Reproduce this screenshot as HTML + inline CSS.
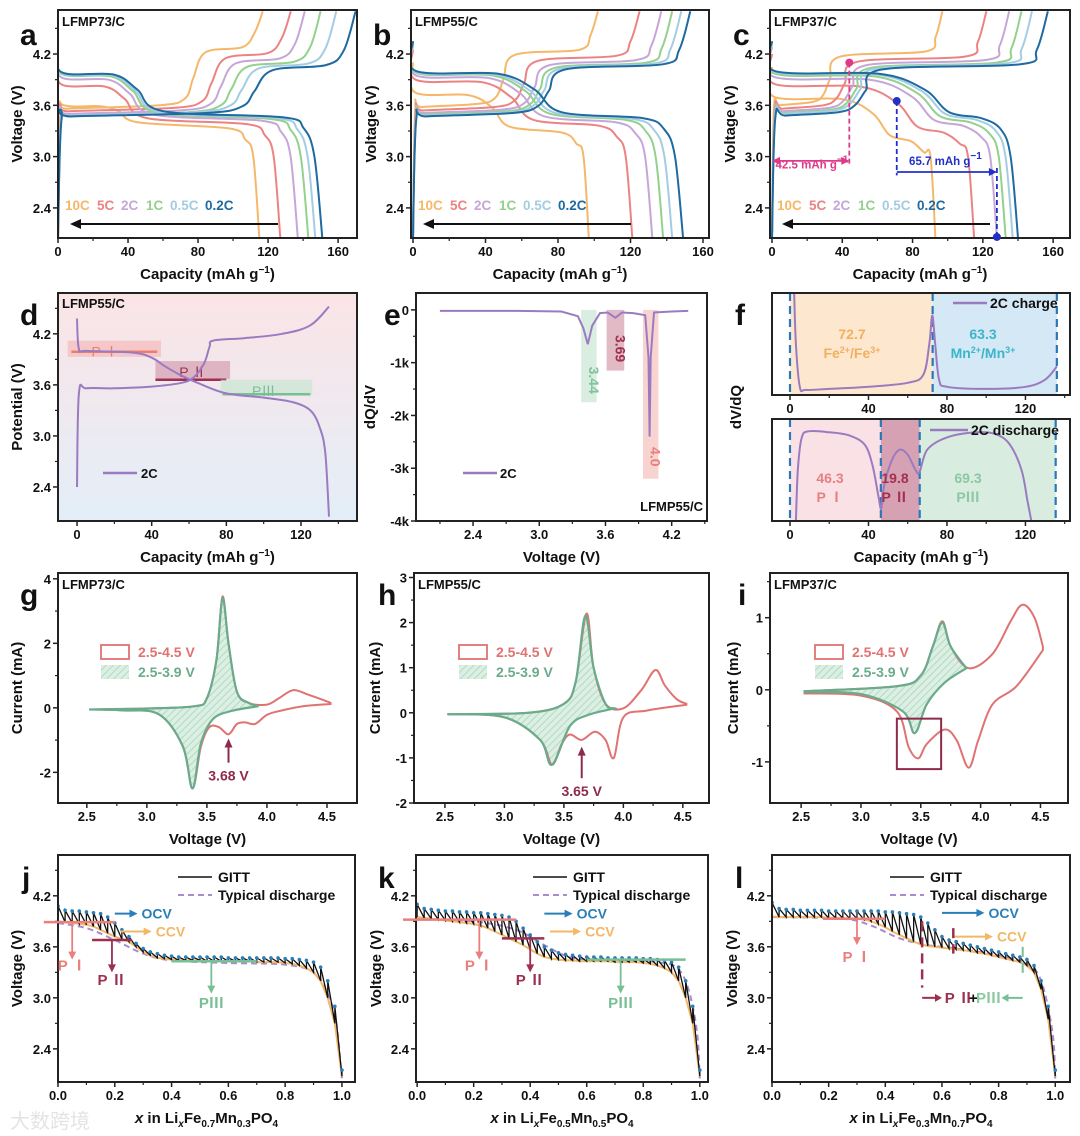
<!DOCTYPE html>
<html><head><meta charset="utf-8"><style>
html,body{margin:0;padding:0;background:#fff}
svg{display:block;font-family:"Liberation Sans","Noto Sans CJK SC",sans-serif}
</style></head><body>
<svg id="fig" width="1080" height="1136" viewBox="0 0 1080 1136">
<defs>
<linearGradient id="dbg" x1="0" y1="0" x2="0" y2="1"><stop offset="0" stop-color="#fbe4e6"/><stop offset="1" stop-color="#e3eef8"/></linearGradient>
<pattern id="hatch" width="5" height="5" patternUnits="userSpaceOnUse" patternTransform="rotate(45)"><rect width="5" height="5" fill="#dcefe3"/><line x1="0" y1="0" x2="0" y2="5" stroke="#a9d4bb" stroke-width="1.6"/></pattern>
</defs>
</svg>
<script>
// ---------- data: panels a,b,c (rates) ----------
const rates=['10C','5C','2C','1C','0.5C','0.2C'];
const rateColors=['#f5b86a','#ec8383','#c6a6d8','#93d18d','#a3cde3','#1f6aa0'];
const aDisCap=[115,127,137,143,147,151];
const aChgCap=[117,133,141,150,159,170];
const aDHigh=[3.62,3.85,3.93,3.97,3.98,3.99];
const aDLow=[3.35,3.4,3.44,3.46,3.47,3.48];
const aCLow=[3.58,3.55,3.52,3.5,3.5,3.49];
const aCHigh=[4.25,4.18,4.12,4.08,4.06,4.04];
const bDisCap=[97,121,132,138,143,149];
const bChgCap=[102,125,137,143,148,153];
const bDHigh=[3.75,3.9,3.95,3.98,3.99,4.0];
const bDLow=[3.3,3.38,3.42,3.45,3.46,3.47];
const bCLow=[3.6,3.56,3.53,3.51,3.5,3.49];
const bCHigh=[4.22,4.15,4.1,4.07,4.06,4.05];
const cDisCap=[93,115,128,133,137,140];
const cChgCap=[97,122,135,142,148,157];
const cDHigh=[3.7,3.85,3.93,3.97,3.99,4.0];
const cDLow=[3.2,3.3,3.38,3.42,3.45,3.47];
const cCLow=[3.62,3.58,3.55,3.53,3.52,3.5];
const cCHigh=[4.2,4.14,4.1,4.07,4.06,4.05];
// ---------- panel d ----------
const dChgX=[0,1,5,20,40,55,62,68,71,73,90,110,125,135];
const dChgY=[2.4,3.5,3.56,3.56,3.58,3.62,3.68,3.85,4.05,4.12,4.15,4.2,4.3,4.52];
const dDisX=[0,1,5,30,40,47,55,65,80,100,115,125,130,133,135];
const dDisY=[4.38,4.02,4.0,3.98,3.92,3.82,3.72,3.62,3.5,3.45,3.4,3.3,3.1,2.8,2.05];
// ---------- panel e ----------
const eX=[2.1,2.8,3.2,3.35,3.4,3.44,3.48,3.55,3.62,3.69,3.75,3.85,3.96,3.99,4.0,4.01,4.04,4.2,4.35];
const eY=[-0.02,-0.02,-0.03,-0.12,-0.35,-0.65,-0.3,-0.06,-0.05,-0.15,-0.05,-0.06,-0.1,-0.9,-2.4,-0.9,-0.05,-0.03,-0.02];
// ---------- panel f ----------
const fChgX=[2,3,5,8,20,40,60,68,71,72.5,74,76,80,100,120,130,136];
const fChgY=[1.1,0.5,0.08,0.05,0.06,0.08,0.12,0.2,0.5,0.78,0.5,0.15,0.08,0.06,0.08,0.15,0.28];
const fDisX=[3,4,6,10,20,30,38,42,45,46.5,48,52,56,60,64,66,70,80,95,105,112,118,121,123];
const fDisY=[0,0.5,0.82,0.88,0.87,0.84,0.75,0.55,0.25,0.12,0.35,0.6,0.7,0.65,0.5,0.48,0.7,0.82,0.87,0.85,0.75,0.5,0.2,0];
// ---------- panels g,h,i ----------
const gRedF=[[2.52,-0.05],[3.0,-0.02],[3.4,0.05],[3.5,0.3],[3.58,1.5],[3.63,3.45],[3.68,2.0],[3.75,0.5],[3.85,0.15],[4.0,0.1],[4.1,0.3],[4.22,0.55],[4.35,0.4],[4.5,0.2],[4.53,0.15]];
const gRedR=[[4.53,0.12],[4.3,0.05],[4.1,-0.1],[4.0,-0.22],[3.9,-0.5],[3.82,-0.45],[3.75,-0.5],[3.68,-0.82],[3.6,-0.6],[3.52,-0.6],[3.45,-1.2],[3.38,-2.5],[3.3,-1.2],[3.1,-0.2],[2.8,-0.08],[2.52,-0.05]];
const gGrnF=[[2.52,-0.05],[3.0,-0.02],[3.4,0.05],[3.5,0.3],[3.58,1.5],[3.63,3.4],[3.68,2.0],[3.75,0.5],[3.85,0.15],[3.93,0.05]];
const gGrnR=[[3.93,0.05],[3.7,-0.1],[3.55,-0.35],[3.45,-1.1],[3.38,-2.5],[3.3,-1.2],[3.1,-0.2],[2.8,-0.08],[2.52,-0.05]];
const hRedF=[[2.52,-0.03],[3.2,0],[3.5,0.2],[3.6,0.7],[3.69,2.2],[3.75,1.0],[3.85,0.2],[4.0,0.1],[4.15,0.5],[4.27,0.95],[4.35,0.6],[4.45,0.3],[4.53,0.2]];
const hRedR=[[4.53,0.18],[4.2,0.05],[4.0,-0.1],[3.92,-1.0],[3.85,-0.6],[3.76,-0.42],[3.65,-0.6],[3.55,-0.48],[3.48,-0.7],[3.4,-1.15],[3.3,-0.6],[3.0,-0.1],[2.52,-0.03]];
const hGrnF=[[2.52,-0.03],[3.2,0],[3.5,0.2],[3.6,0.7],[3.68,2.15],[3.75,1.0],[3.85,0.2],[3.93,0.1]];
const hGrnR=[[3.93,0.1],[3.7,-0.05],[3.55,-0.3],[3.4,-1.15],[3.3,-0.6],[3.0,-0.1],[2.52,-0.03]];
const iRedF=[[2.52,-0.02],[3.3,0.05],[3.5,0.2],[3.6,0.6],[3.68,0.95],[3.75,0.6],[3.9,0.3],[4.1,0.5],[4.25,0.95],[4.35,1.18],[4.45,1.0],[4.52,0.6]];
const iRedR=[[4.52,0.55],[4.3,0.05],[4.1,-0.2],[3.98,-0.7],[3.9,-1.08],[3.8,-0.7],[3.7,-0.55],[3.55,-0.75],[3.48,-0.95],[3.4,-0.8],[3.3,-0.3],[3.0,-0.08],[2.52,-0.05]];
const iGrnF=[[2.52,-0.02],[3.3,0.05],[3.5,0.2],[3.6,0.6],[3.68,0.93],[3.75,0.6],[3.88,0.3]];
const iGrnR=[[3.88,0.3],[3.7,0.1],[3.55,-0.2],[3.45,-0.6],[3.35,-0.3],[3.0,-0.06],[2.52,-0.03]];
// ---------- panels j,k,l (GITT) ----------
const jOCV=[4.08,4.03,4.02,4.02,4.01,4.0,3.99,3.95,3.88,3.8,3.72,3.64,3.58,3.54,3.52,3.5,3.49,3.48,3.48,3.48,3.48,3.48,3.48,3.48,3.47,3.47,3.47,3.47,3.47,3.47,3.47,3.47,3.46,3.46,3.45,3.44,3.42,3.36,3.2,2.9,2.15];
const jCCV=[3.9,3.89,3.88,3.87,3.86,3.84,3.8,3.76,3.72,3.69,3.66,3.6,3.54,3.5,3.47,3.46,3.45,3.44,3.44,3.44,3.44,3.43,3.43,3.43,3.43,3.43,3.43,3.43,3.42,3.42,3.42,3.42,3.41,3.4,3.38,3.35,3.3,3.2,3.0,2.7,2.08];
const jTypX=[0,0.1,0.2,0.3,0.4,0.6,0.8,0.9,0.95,0.98,1.0];
const jTypY=[3.88,3.82,3.68,3.52,3.44,3.41,3.39,3.3,3.05,2.7,2.05];
const kOCV=[4.1,4.05,4.04,4.03,4.02,4.02,4.01,4.01,4.0,4.0,3.99,3.98,3.97,3.95,3.9,3.82,3.74,3.66,3.6,3.56,3.53,3.51,3.5,3.49,3.48,3.48,3.48,3.47,3.47,3.47,3.47,3.47,3.46,3.46,3.45,3.44,3.42,3.36,3.2,2.9,2.15];
const kCCV=[3.95,3.94,3.93,3.92,3.91,3.9,3.89,3.88,3.87,3.85,3.82,3.78,3.74,3.7,3.66,3.62,3.57,3.52,3.48,3.46,3.45,3.44,3.44,3.43,3.43,3.43,3.43,3.43,3.42,3.42,3.42,3.42,3.41,3.4,3.38,3.35,3.3,3.2,3.0,2.7,2.08];
const kTypX=[0,0.2,0.35,0.45,0.55,0.7,0.85,0.92,0.96,0.99,1.0];
const kTypY=[3.93,3.9,3.8,3.62,3.47,3.44,3.42,3.35,3.1,2.6,2.05];
const lOCV=[4.12,4.05,4.04,4.04,4.03,4.03,4.03,4.03,4.02,4.02,4.02,4.02,4.02,4.02,4.02,4.02,4.01,4.01,4.0,3.99,3.98,3.95,3.88,3.8,3.72,3.68,3.66,3.64,3.62,3.6,3.58,3.56,3.54,3.52,3.5,3.48,3.45,3.38,3.2,2.9,2.15];
const lCCV=[3.96,3.95,3.95,3.95,3.95,3.95,3.95,3.95,3.94,3.94,3.94,3.93,3.93,3.92,3.9,3.87,3.83,3.78,3.74,3.7,3.66,3.63,3.61,3.6,3.59,3.58,3.57,3.56,3.55,3.53,3.52,3.5,3.48,3.46,3.44,3.42,3.38,3.3,3.1,2.75,2.08];
const lTypX=[0,0.25,0.35,0.45,0.55,0.65,0.8,0.9,0.95,0.99,1.0];
const lTypY=[3.95,3.93,3.85,3.7,3.62,3.58,3.5,3.4,3.2,2.6,2.05];

// ---------- helpers ----------
const NS='http://www.w3.org/2000/svg';
const svg=document.getElementById('fig');
function mk(tag,attrs,parent){const e=document.createElementNS(NS,tag);for(const k in attrs)e.setAttribute(k,attrs[k]);(parent||svg).appendChild(e);return e;}
function txt(x,y,s,attrs,parent){const t=mk('text',Object.assign({x:x,y:y,'font-size':13,'font-weight':'bold',fill:'#111'},attrs||{}),parent);t.innerHTML=s;return t;}
function smooth(p){if(p.length<2)return '';let d='M'+p[0][0].toFixed(1)+','+p[0][1].toFixed(1);
 for(let i=0;i<p.length-1;i++){const p0=p[i-1]||p[i],p1=p[i],p2=p[i+1],p3=p[i+2]||p2;
  const c1=[p1[0]+(p2[0]-p0[0])/6,p1[1]+(p2[1]-p0[1])/6],c2=[p2[0]-(p3[0]-p1[0])/6,p2[1]-(p3[1]-p1[1])/6];
  d+='C'+c1[0].toFixed(1)+','+c1[1].toFixed(1)+' '+c2[0].toFixed(1)+','+c2[1].toFixed(1)+' '+p2[0].toFixed(1)+','+p2[1].toFixed(1);}
 return d;}
function line(p){return 'M'+p.map(q=>q[0].toFixed(1)+','+q[1].toFixed(1)).join('L');}
let clipN=0;
function panel(o){
 const [L,T,R,B]=o.box;
 const sx=v=>L+(v-o.xd[0])/(o.xd[1]-o.xd[0])*(R-L);
 const sy=v=>B-(v-o.yd[0])/(o.yd[1]-o.yd[0])*(B-T);
 const g=mk('g',{});
 
 
 const id='clip'+(clipN++);
 const cp=mk('clipPath',{id:id},g);mk('rect',{x:L,y:T,width:R-L,height:B-T},cp);
 const bg=mk('g',{'clip-path':'url(#'+id+')'},g);
 const plot=mk('g',{'clip-path':'url(#'+id+')'},g);
 const top=mk('g',{},g);
 const frame=mk('rect',{x:L,y:T,width:R-L,height:B-T,fill:'none',stroke:'#222','stroke-width':2},top);
 
 
 (o.xt||[]).forEach(v=>{const x=sx(v);mk('line',{x1:x,y1:B,x2:x,y2:B+5,stroke:'#222','stroke-width':1.5},top);
   const t=txt(x,B+18,o.xfmt?o.xfmt(v):String(v),{'text-anchor':'middle'},top);
   
   });
 (o.xm||[]).forEach(v=>{const x=sx(v);mk('line',{x1:x,y1:B,x2:x,y2:B+3,stroke:'#222','stroke-width':1.2},top);});
 (o.yt||[]).forEach((v,i)=>{const y=sy(v);mk('line',{x1:L,y1:y,x2:L-5,y2:y,stroke:'#222','stroke-width':1.5},top);
   if(o.ylab!==false){const t=txt(L-7,y+5,o.yfmt?o.yfmt(v,i):String(v),{'text-anchor':'end'},top);
   
   }});
 (o.ym||[]).forEach(v=>{const y=sy(v);mk('line',{x1:L,y1:y,x2:L-3,y2:y,stroke:'#222','stroke-width':1.2},top);});
 if(o.xtitle){const t=txt((L+R)/2,B+41,o.xtitle,{'text-anchor':'middle','font-size':15},top);
   
   }
 if(o.ytitle){const yx=o.ytx, yy=(T+B)/2;const t=txt(yx,yy,o.ytitle,{'text-anchor':'middle','font-size':15,transform:'rotate(-90 '+yx+' '+yy+')'},top);
   
   }
 if(o.letter){const t=txt(o.letter[1],o.letter[2],o.letter[0],{'font-size':30},top);
   
   }
 if(o.sample){const t=txt(o.sample[1],o.sample[2],o.sample[0],{'font-size':13},top);
   
   }
 return {sx,sy,g,bg,plot,top,L,T,R,B};
}
const G1='g<tspan dy="-6" font-size="10">−1</tspan>';
const capT='Capacity (mAh '+G1+'<tspan dy="6">)</tspan>';

// ---------- row 1 ----------
function discharge(C,hi,lo,f){return [[0,hi+0.35],[0.012*C,hi],[f*0.7*C,hi-0.03],[f*C,(hi+lo)/2+0.05],[(f+0.1)*C,lo+0.05],[0.85*C,lo-0.02],[0.93*C,lo-0.15],[0.97*C,3.0],[C,2.05]];}
function charge(C,lo,hi,g){return [[0,2.05],[0.012*C,lo-0.05],[0.05*C,lo-0.02],[g*0.8*C,lo+0.02],[g*C,lo+0.1],[(g+0.04)*C,(lo+hi)/2],[(g+0.1)*C,hi-0.03],[0.9*C,hi+0.03],[0.96*C,hi+0.2],[C,4.7]];}
function ratePanel(o,dCap,cCap,dHi,dLo,cLo,cHi,fD,gC){
 const p=panel(o);
 rates.forEach((r,i)=>{
  const pd=mk('path',{d:smooth(discharge(dCap[i],dHi[i],dLo[i],fD).map(q=>[p.sx(q[0]),p.sy(q[1])])),fill:'none',stroke:rateColors[i],'stroke-width':2},p.plot);
  
  
  const pc=mk('path',{d:smooth(charge(cCap[i],cLo[i],cHi[i],gC).map(q=>[p.sx(q[0]),p.sy(q[1])])),fill:'none',stroke:rateColors[i],'stroke-width':2},p.plot);
  
  
 });
 const offs=[7,39,63,88,112,147];
 rates.forEach((r,i)=>{const t=txt(p.L+offs[i],210,r,{fill:rateColors[i],'font-size':13.5},p.top);
  
  });
 const ar=mk('path',{d:'M'+(p.L+220)+',224H'+(p.L+20),stroke:'#111','stroke-width':2,fill:'none'},p.top);
 
 
 mk('path',{d:'M'+(p.L+12)+',224l11,-5v10z',fill:'#111'},p.top);
 return p;
}
const vt=[2.4,3.0,3.6,4.2], vf=v=>v.toFixed(1);
ratePanel({name:'panel-a',box:[58,10,357,238],xd:[0,170.8],yd:[2.048,4.715],xt:[0,40,80,120,160],xm:[20,60,100,140],yt:vt,ym:[2.7,3.3,3.9,4.5],yfmt:vf,xtitle:capT,ytitle:'Voltage (V)',ytx:22,letter:['a',20,45],sample:['LFMP73/C',62,26]},aDisCap,aChgCap,aDHigh,aDLow,aCLow,aCHigh,0.3,0.62);
ratePanel({name:'panel-b',box:[411,10,709,238],xd:[-1.1,163.3],yd:[2.048,4.715],xt:[0,40,80,120,160],xm:[20,60,100,140],yt:vt,ym:[2.7,3.3,3.9,4.5],yfmt:vf,xtitle:capT,ytitle:'Voltage (V)',ytx:376,letter:['b',373,45],sample:['LFMP55/C',415,26]},bDisCap,bChgCap,bDHigh,bDLow,bCLow,bCHigh,0.45,0.45);
const pc=ratePanel({name:'panel-c',box:[770,10,1070,238],xd:[-1.14,169.6],yd:[2.048,4.715],xt:[0,40,80,120,160],xm:[20,60,100,140],yt:vt,ym:[2.7,3.3,3.9,4.5],yfmt:vf,xtitle:capT,ytitle:'Voltage (V)',ytx:735,letter:['c',733,45],sample:['LFMP37/C',774,26]},cDisCap,cChgCap,cDHigh,cDLow,cCLow,cCHigh,0.62,0.3);
// c annotations
const cPink=[44,4.1], cBlue=[71,3.65], cDark=[128,2.06];
mk('line',{x1:pc.sx(cPink[0]),y1:pc.sy(cPink[1]),x2:pc.sx(cPink[0]),y2:pc.sy(2.9),stroke:'#e0388a','stroke-width':1.8,'stroke-dasharray':'5,3'},pc.top);
mk('circle',{cx:pc.sx(cPink[0]),cy:pc.sy(cPink[1]),r:4,fill:'#e0388a'},pc.top);
mk('line',{x1:pc.sx(1),y1:pc.sy(2.95),x2:pc.sx(cPink[0]-1),y2:pc.sy(2.95),stroke:'#e0388a','stroke-width':1.8},pc.top);
mk('path',{d:'M'+pc.sx(0)+','+pc.sy(2.95)+'l8,-4v8z',fill:'#e0388a'},pc.top);
mk('path',{d:'M'+pc.sx(cPink[0])+','+pc.sy(2.95)+'l-8,-4v8z',fill:'#e0388a'},pc.top);
txt(pc.sx(2),pc.sy(2.86),'42.5 mAh '+G1,{fill:'#e0388a','font-size':11.5},pc.top);
mk('line',{x1:pc.sx(cBlue[0]),y1:pc.sy(cBlue[1]),x2:pc.sx(cBlue[0]),y2:pc.sy(2.78),stroke:'#2230c8','stroke-width':1.8,'stroke-dasharray':'5,3'},pc.top);
mk('circle',{cx:pc.sx(cBlue[0]),cy:pc.sy(cBlue[1]),r:4,fill:'#2230c8'},pc.top);
mk('line',{x1:pc.sx(cBlue[0]),y1:pc.sy(2.82),x2:pc.sx(cDark[0]-1),y2:pc.sy(2.82),stroke:'#2230c8','stroke-width':1.8},pc.top);
mk('path',{d:'M'+pc.sx(cDark[0])+','+pc.sy(2.82)+'l-8,-4v8z',fill:'#2230c8'},pc.top);
mk('line',{x1:pc.sx(cDark[0]),y1:pc.sy(cDark[1]),x2:pc.sx(cDark[0]),y2:pc.sy(2.9),stroke:'#2230c8','stroke-width':1.8,'stroke-dasharray':'5,3'},pc.top);
mk('circle',{cx:pc.sx(cDark[0]),cy:pc.sy(cDark[1]),r:4,fill:'#2230c8'},pc.top);
txt(pc.sx(78),pc.sy(2.9),'65.7 mAh '+G1,{fill:'#2230c8','font-size':11.5},pc.top);

// ---------- panel d ----------
const pd=panel({name:'panel-d',box:[58,293,357,521],xd:[-10.2,150],yd:[2.0,4.68],xt:[0,40,80,120],xm:[20,60,100,140],yt:vt,ym:[2.7,3.3,3.9,4.5],yfmt:vf,xtitle:capT,ytitle:'Potential (V)',ytx:22,letter:['d',20,325],sample:['LFMP55/C',62,308]});
mk('rect',{x:58,y:293,width:299,height:228,fill:'url(#dbg)'},pd.bg);
const dBands=[[-5,45,4.12,3.93,'#f4bcbc','#ea7f6c',3.99,-3,43,'P Ⅰ',15],[42,82,3.88,3.67,'#d8a3b4','#9e2f4f',3.66,42,80,'P Ⅱ',62],[77,126,3.66,3.48,'#cbe6d3','#78bf96',3.49,78,125,'PⅢ',100]];
dBands.forEach(b=>{const r=mk('rect',{x:pd.sx(b[0]),y:pd.sy(b[2]),width:pd.sx(b[1])-pd.sx(b[0]),height:pd.sy(b[3])-pd.sy(b[2]),fill:b[4],opacity:0.75},pd.plot);
 
 
 mk('line',{x1:pd.sx(b[7]),y1:pd.sy(b[6]),x2:pd.sx(b[8]),y2:pd.sy(b[6]),stroke:b[5],'stroke-width':2.5},pd.plot);
 txt(pd.sx(b[10]),pd.sy(b[2])+16,b[9],{fill:b[5],'text-anchor':'middle','font-size':14,'font-weight':'normal'},pd.plot);});
const dC=mk('path',{d:smooth(dChgX.map((x,i)=>[pd.sx(x),pd.sy(dChgY[i])])),fill:'none',stroke:'#9b7bc0','stroke-width':2},pd.plot);


const dD=mk('path',{d:smooth(dDisX.map((x,i)=>[pd.sx(x),pd.sy(dDisY[i])])),fill:'none',stroke:'#9b7bc0','stroke-width':2},pd.plot);


mk('line',{x1:103,y1:473,x2:137,y2:473,stroke:'#9b7bc0','stroke-width':2.5},pd.top);
txt(141,478,'2C',{},pd.top);

// ---------- panel e ----------
const pe=panel({name:'panel-e',box:[416,293,707,521],xd:[1.883,4.52],yd:[-4.0,0.32],xt:[2.4,3.0,3.6,4.2],xm:[2.1,2.7,3.3,3.9,4.5],xfmt:vf,yt:[-4,-3,-2,-1,0],ym:[-3.5,-2.5,-1.5,-0.5],yfmt:v=>v===0?'0':v+'k',xtitle:'Voltage (V)',ytitle:'dQ/dV',ytx:375,letter:['e',384,325]});
const eBands=[[3.38,3.52,-1.75,'#cfe8d8','#7fc39e','3.44',3.45],[3.61,3.77,-1.15,'#dba9b8','#9e2f4f','3.69',3.69],[3.94,4.08,-3.2,'#f6c9c6','#ea7f7c','4.0',4.01]];
eBands.forEach(b=>{const r=mk('rect',{x:pe.sx(b[0]),y:pe.sy(0),width:pe.sx(b[1])-pe.sx(b[0]),height:pe.sy(b[2])-pe.sy(0),fill:b[3],opacity:0.8},pe.plot);
 
 
 const ly=pe.sy(b[2])-22, lx=pe.sx(b[6]);
 txt(lx,ly,b[5],{fill:b[4],'font-size':14,'text-anchor':'middle',transform:'rotate(90 '+lx+' '+ly+')'},pe.plot);});
const eC=mk('path',{d:line(eX.map((x,i)=>[pe.sx(x),pe.sy(eY[i])])),fill:'none',stroke:'#9b7bc0','stroke-width':2},pe.plot);


mk('line',{x1:463,y1:473,x2:497,y2:473,stroke:'#9b7bc0','stroke-width':2.5},pe.top);
txt(500,478,'2C',{},pe.top);
txt(703,511,'LFMP55/C',{'text-anchor':'end'},pe.top);

// ---------- panel f ----------
const fT=panel({name:'panel-f-charge',box:[772,293,1070,395],xd:[-9.17,142.7],yd:[0,1],xt:[0,40,80,120],xm:[20,60,100,140],letter:['f',735,325]});
const fB=panel({name:'panel-f-discharge',box:[772,419,1070,521],xd:[-9.17,142.7],yd:[0,1],xt:[0,40,80,120],xm:[20,60,100,140],xtitle:capT});
const fTopReg=[[0,72.7,'#fde7cf'],[72.7,136,'#d4e8f5']];
const fBotReg=[[0,46.3,'#f9e1e6'],[46.3,66.1,'#d6a2b3'],[66.1,135.4,'#d8ece0']];
fTopReg.forEach(r=>mk('rect',{x:fT.sx(r[0]),y:293,width:fT.sx(r[1])-fT.sx(r[0]),height:102,fill:r[2]},fT.bg));
fBotReg.forEach(r=>mk('rect',{x:fB.sx(r[0]),y:419,width:fB.sx(r[1])-fB.sx(r[0]),height:102,fill:r[2]},fB.bg));
[0,72.7,136].forEach(v=>mk('line',{x1:fT.sx(v),y1:293,x2:fT.sx(v),y2:395,stroke:'#2a78b8','stroke-width':2.2,'stroke-dasharray':'8,5'},fT.plot));
[0,46.3,66.1,135.4].forEach(v=>mk('line',{x1:fB.sx(v),y1:419,x2:fB.sx(v),y2:521,stroke:'#2a78b8','stroke-width':2.2,'stroke-dasharray':'8,5'},fB.plot));
const fc1=mk('path',{d:smooth(fChgX.map((x,i)=>[fT.sx(x),fT.sy(fChgY[i])])),fill:'none',stroke:'#9b7bc0','stroke-width':2},fT.plot);


const fc2=mk('path',{d:smooth(fDisX.map((x,i)=>[fB.sx(x),fB.sy(fDisY[i])])),fill:'none',stroke:'#9b7bc0','stroke-width':2},fB.plot);


txt(852,339,'72.7',{fill:'#f0b060','text-anchor':'middle','font-size':14},fT.top);
txt(852,358,'Fe<tspan dy="-5" font-size="9">2+</tspan><tspan dy="5">/Fe</tspan><tspan dy="-5" font-size="9">3+</tspan>',{fill:'#f0b060','text-anchor':'middle','font-size':14},fT.top);
txt(983,339,'63.3',{fill:'#3bb6c8','text-anchor':'middle','font-size':14},fT.top);
txt(983,358,'Mn<tspan dy="-5" font-size="9">2+</tspan><tspan dy="5">/Mn</tspan><tspan dy="-5" font-size="9">3+</tspan>',{fill:'#3bb6c8','text-anchor':'middle','font-size':14},fT.top);
mk('line',{x1:953,y1:303,x2:987,y2:303,stroke:'#9b7bc0','stroke-width':2.5},fT.top);
txt(990,308,'2C charge',{'font-size':14},fT.top);
mk('line',{x1:930,y1:430,x2:968,y2:430,stroke:'#9b7bc0','stroke-width':2.5},fB.top);
txt(971,435,'2C discharge',{'font-size':14},fB.top);
txt(830,483,'46.3',{fill:'#e88080','text-anchor':'middle','font-size':14},fB.top);
txt(830,502,'P Ⅰ',{fill:'#e88080','text-anchor':'middle','font-size':14},fB.top);
txt(895,483,'19.8',{fill:'#a3304f','text-anchor':'middle','font-size':14},fB.top);
txt(895,502,'P Ⅱ',{fill:'#a3304f','text-anchor':'middle','font-size':14},fB.top);
txt(968,483,'69.3',{fill:'#8cc8a2','text-anchor':'middle','font-size':14},fB.top);
txt(968,502,'PⅢ',{fill:'#8cc8a2','text-anchor':'middle','font-size':14},fB.top);
txt(741,407,'dV/dQ',{'text-anchor':'middle','font-size':15,transform:'rotate(-90 741 407)'},fB.top);

// ---------- row 3: CV ----------
function cvPanel(o,rF,rR,gF,gR,ann,leg){
 const p=panel(o);
 const P=a=>a.map(q=>[p.sx(q[0]),p.sy(q[1])]);
 const gp=mk('path',{d:smooth(P(gF))+smooth(P(gR)).replace('M','L')+'Z',fill:'url(#hatch)',stroke:'none'},p.plot);
 
 
 const r1=mk('path',{d:smooth(P(rF))+smooth(P(rR)).replace('M','L'),fill:'none',stroke:'#e07272','stroke-width':2},p.plot);
 
 
 const g1=mk('path',{d:smooth(P(gF))+smooth(P(gR)).replace('M','L'),fill:'none',stroke:'#6aab8c','stroke-width':2.2},p.plot);
 
 
 const lx=leg[0], ly=leg[1];
 mk('rect',{x:lx,y:ly,width:28,height:14,fill:'none',stroke:'#e07272','stroke-width':1.8},p.top);
 txt(lx+37,ly+12,'2.5-4.5 V',{fill:'#e07272','font-size':14},p.top);
 mk('rect',{x:lx,y:ly+20,width:28,height:14,fill:'url(#hatch)'},p.top);
 txt(lx+37,ly+32,'2.5-3.9 V',{fill:'#6aab8c','font-size':14},p.top);
 if(ann){const x=p.sx(ann[0]);mk('line',{x1:x,y1:p.sy(ann[2]),x2:x,y2:p.sy(ann[1])+8,stroke:'#8e2a4a','stroke-width':2},p.top);
  mk('path',{d:'M'+x+','+p.sy(ann[1])+'l-4,9h8z',fill:'#8e2a4a'},p.top);
  txt(x,p.sy(ann[2])+18,ann[0].toFixed(2)+' V',{fill:'#8e2a4a','text-anchor':'middle','font-size':14},p.top);}
 return p;
}
const cvx=[2.5,3.0,3.5,4.0,4.5], cvm=[2.75,3.25,3.75,4.25];
cvPanel({name:'panel-g',box:[58,573,357,803],xd:[2.26,4.75],yd:[-2.95,4.18],xt:cvx,xm:cvm,xfmt:vf,yt:[-2,0,2,4],ym:[-1,1,3],xtitle:'Voltage (V)',ytitle:'Current (mA)',ytx:22,letter:['g',20,605],sample:['LFMP73/C',62,589]},gRedF,gRedR,gGrnF,gGrnR,[3.68,-0.95,-1.7],[101,645]);
cvPanel({name:'panel-h',box:[414,573,709,803],xd:[2.24,4.72],yd:[-2.0,3.1],xt:cvx,xm:cvm,xfmt:vf,yt:[-2,-1,0,1,2,3],ym:[-1.5,-0.5,0.5,1.5,2.5],xtitle:'Voltage (V)',ytitle:'Current (mA)',ytx:380,letter:['h',378,605],sample:['LFMP55/C',418,589]},hRedF,hRedR,hGrnF,hGrnR,[3.65,-0.75,-1.45],[459,645]);
const pi=cvPanel({name:'panel-i',box:[770,573,1068,803],xd:[2.24,4.73],yd:[-1.57,1.62],xt:cvx,xm:cvm,xfmt:vf,yt:[-1,0,1],ym:[-0.5,0.5,1.5],xtitle:'Voltage (V)',ytitle:'Current (mA)',ytx:738,letter:['i',738,605],sample:['LFMP37/C',774,589]},iRedF,iRedR,iGrnF,iGrnR,null,[815,645]);
const ibox=mk('rect',{x:pi.sx(3.3),y:pi.sy(-0.4),width:pi.sx(3.67)-pi.sx(3.3),height:pi.sy(-1.1)-pi.sy(-0.4),fill:'none',stroke:'#8e2a4a','stroke-width':2},pi.top);



// ---------- row 4: GITT ----------
function gittPanel(o,ocv,ccv,tx,ty,legX){
 const p=panel(o);
 const n=ocv.length, X=i=>i/(n-1);
 const typ=mk('path',{d:smooth(tx.map((x,i)=>[p.sx(x),p.sy(ty[i])])),fill:'none',stroke:'#a98bd0','stroke-width':2,'stroke-dasharray':'6,4'},p.plot);
 
 
 const cc=mk('path',{d:line(ccv.map((v,i)=>[p.sx(X(i)),p.sy(v)])),fill:'none',stroke:'#f2b867','stroke-width':2},p.plot);
 
 
 let d='';ocv.forEach((v,i)=>{const x=p.sx(X(i));d+=(i?'L':'M')+x+','+p.sy(ccv[i])+'L'+x+','+p.sy(v);});
 const gt=mk('path',{d:d,fill:'none',stroke:'#111','stroke-width':1.3},p.plot);
 
 
 ocv.forEach((v,i)=>{const c=mk('circle',{cx:p.sx(X(i)),cy:p.sy(v),r:1.8,fill:'#2a7fb8'},p.plot);
  
  });
 mk('line',{x1:legX,y1:877,x2:legX+34,y2:877,stroke:'#111','stroke-width':1.5},p.top);
 txt(legX+40,882,'GITT',{'font-size':14},p.top);
 mk('line',{x1:legX,y1:895,x2:legX+34,y2:895,stroke:'#a98bd0','stroke-width':2,'stroke-dasharray':'6,4'},p.top);
 txt(legX+40,900,'Typical discharge',{'font-size':14},p.top);
 return p;
}
function arrowH(p,x1,x2,y,col,label){const a=p.sx(x1),b=p.sx(x2),yy=p.sy(y);mk('line',{x1:a,y1:yy,x2:b-6,y2:yy,stroke:col,'stroke-width':2},p.top);mk('path',{d:'M'+b+','+yy+'l-8,-4v8z',fill:col},p.top);txt(b+4,yy+5,label,{fill:col,'font-size':14},p.top);}
function arrowV(p,x,y1,y2,col,label,ly){const xx=p.sx(x);mk('line',{x1:xx,y1:p.sy(y1),x2:xx,y2:p.sy(y2)-6,stroke:col,'stroke-width':1.8},p.top);mk('path',{d:'M'+xx+','+p.sy(y2)+'l-4,-8h8z',fill:col},p.top);txt(xx,p.sy(ly),label,{fill:col,'font-size':15,'text-anchor':'middle'},p.top);}
function hbar(p,x1,x2,y,col){mk('line',{x1:p.sx(x1),y1:p.sy(y),x2:p.sx(x2),y2:p.sy(y),stroke:col,'stroke-width':2.5},p.top);}
const gx=[0,0.2,0.4,0.6,0.8,1.0], gm=[0.1,0.3,0.5,0.7,0.9];
const sub=(a,b)=>'<tspan font-style="italic">x</tspan> in Li<tspan dy="4" font-size="10" font-style="italic">x</tspan><tspan dy="-4">Fe</tspan><tspan dy="4" font-size="10">'+a+'</tspan><tspan dy="-4">Mn</tspan><tspan dy="4" font-size="10">'+b+'</tspan><tspan dy="-4">PO</tspan><tspan dy="4" font-size="10">4</tspan>';
const pj=gittPanel({name:'panel-j',box:[58,855,355,1082],xd:[0,1.046],yd:[2.01,4.68],xt:gx,xm:gm,xfmt:vf,yt:vt,ym:[2.7,3.3,3.9,4.5],yfmt:vf,xtitle:sub('0.7','0.3'),ytitle:'Voltage (V)',ytx:22,letter:['j',22,888]},jOCV,jCCV,jTypX,jTypY,178);
hbar(pj,-0.05,0.2,3.89,'#ea7f7c');hbar(pj,0.12,0.26,3.68,'#9e2f4f');hbar(pj,0.4,0.7,3.43,'#78bf96');
arrowV(pj,0.05,3.89,3.45,'#ea7f7c','P Ⅰ',3.32);arrowV(pj,0.19,3.68,3.3,'#9e2f4f','P Ⅱ',3.15);arrowV(pj,0.54,3.43,3.05,'#78bf96','PⅢ',2.88);
arrowH(pj,0.2,0.28,3.99,'#2a7fb8','OCV');arrowH(pj,0.22,0.33,3.78,'#f2b867','CCV');
const pk=gittPanel({name:'panel-k',box:[416,855,708,1082],xd:[-0.004,1.029],yd:[2.01,4.68],xt:gx,xm:gm,xfmt:vf,yt:vt,ym:[2.7,3.3,3.9,4.5],yfmt:vf,xtitle:sub('0.5','0.5'),ytitle:'Voltage (V)',ytx:381,letter:['k',378,888]},kOCV,kCCV,kTypX,kTypY,533);
hbar(pk,-0.05,0.35,3.92,'#ea7f7c');hbar(pk,0.3,0.45,3.7,'#9e2f4f');hbar(pk,0.6,0.95,3.45,'#78bf96');
arrowV(pk,0.22,3.92,3.45,'#ea7f7c','P Ⅰ',3.32);arrowV(pk,0.4,3.7,3.3,'#9e2f4f','P Ⅱ',3.15);arrowV(pk,0.72,3.45,3.05,'#78bf96','PⅢ',2.88);
arrowH(pk,0.45,0.55,3.99,'#2a7fb8','OCV');arrowH(pk,0.47,0.58,3.78,'#f2b867','CCV');
const pl=gittPanel({name:'panel-l',box:[772,855,1070,1082],xd:[0,1.052],yd:[2.01,4.68],xt:gx,xm:gm,xfmt:vf,yt:vt,ym:[2.7,3.3,3.9,4.5],yfmt:vf,xtitle:sub('0.3','0.7'),ytitle:'Voltage (V)',ytx:737,letter:['l',735,888]},lOCV,lCCV,lTypX,lTypY,890);
hbar(pl,0.18,0.4,3.93,'#ea7f7c');
arrowV(pl,0.3,3.93,3.62,'#ea7f7c','P Ⅰ',3.42);
arrowH(pl,0.6,0.75,4.0,'#2a7fb8','OCV');arrowH(pl,0.64,0.78,3.72,'#f2b867','CCV');
[[0.53,3.9,3.12],[0.64,3.82,3.52]].forEach(v=>mk('line',{x1:pl.sx(v[0]),y1:pl.sy(v[1]),x2:pl.sx(v[0]),y2:pl.sy(v[2]),stroke:'#9e2f4f','stroke-width':2.5,'stroke-dasharray':'10,6'},pl.top));
mk('line',{x1:pl.sx(0.885),y1:pl.sy(3.6),x2:pl.sx(0.885),y2:pl.sy(3.25),stroke:'#78bf96','stroke-width':2,'stroke-dasharray':'10,6'},pl.top);
mk('line',{x1:pl.sx(0.53),y1:pl.sy(3.0),x2:pl.sx(0.58),y2:pl.sy(3.0),stroke:'#9e2f4f','stroke-width':2},pl.top);
mk('path',{d:'M'+pl.sx(0.6)+','+pl.sy(3.0)+'l-7,-4v8z',fill:'#9e2f4f'},pl.top);
txt(pl.sx(0.61),pl.sy(3.0)+5,'P Ⅱ',{fill:'#9e2f4f','font-size':15},pl.top);
txt(pl.sx(0.695),pl.sy(3.0)+5,'+',{fill:'#111','font-size':15},pl.top);
txt(pl.sx(0.72),pl.sy(3.0)+5,'PⅢ',{fill:'#8cc8a2','font-size':15},pl.top);
mk('line',{x1:pl.sx(0.82),y1:pl.sy(3.0),x2:pl.sx(0.885),y2:pl.sy(3.0),stroke:'#78bf96','stroke-width':2},pl.top);
mk('path',{d:'M'+pl.sx(0.81)+','+pl.sy(3.0)+'l7,-4v8z',fill:'#78bf96'},pl.top);
// watermark
const wm=txt(10,1128,'大数跨境',{'font-size':20,'font-weight':'normal',fill:'#dddddd',opacity:0.8});


</script>
</body></html>
